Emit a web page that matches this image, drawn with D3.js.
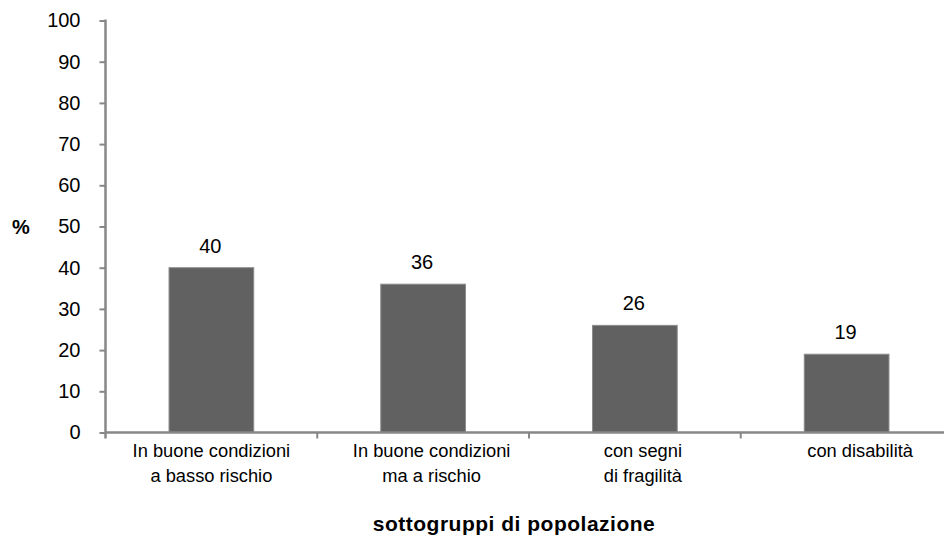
<!DOCTYPE html>
<html>
<head>
<meta charset="utf-8">
<script src="https://cdn.jsdelivr.net/npm/d3@7"></script>
<style>
  html, body { margin: 0; padding: 0; background: #fff; }
  svg { display: block; font-family: "Liberation Sans", Arial, Helvetica, sans-serif; }
</style>
</head>
<body>
<svg id="chart" width="944" height="536"></svg>
<script>
const categories = [
  "In buone condizioni a basso rischio",
  "In buone condizioni ma a rischio",
  "con segni di fragilità",
  "con disabilità"
];
const categoryLines = [
  ["In buone condizioni", "a basso rischio"],
  ["In buone condizioni", "ma a rischio"],
  ["con segni", "di fragilità"],
  ["con disabilità"]
];
const values = [40, 36, 26, 19];
const yTicks = [0, 10, 20, 30, 40, 50, 60, 70, 80, 90, 100];
const yLabel = "%";
const xTitle = "sottogruppi di popolazione";

const svg = d3.select("#chart");
const axisColor = "#878787";
const plotLeft = 105.5, plotTop = 20.5, plotBottom = 432.5, plotRightEnd = 952.5;
const labelShift = [0, 8.5, 8, 13.5];

const x = d3.scaleBand().domain(categories).range([plotLeft, plotRightEnd]).padding(0);
const y = d3.scaleLinear().domain([0, 100]).range([plotBottom, plotTop]);
const barW = x.bandwidth() * 0.4;

// bars
svg.append("g").selectAll("rect").data(values).join("rect")
  .attr("x", (d, i) => x(categories[i]) + (x.bandwidth() - barW) / 2)
  .attr("y", d => y(d))
  .attr("width", barW)
  .attr("height", d => y(0) - y(d))
  .attr("fill", "#616161")
  .attr("stroke", "#8c8c8c")
  .attr("stroke-width", 1);

// value labels
svg.append("g").selectAll("text").data(values).join("text")
  .attr("x", (d, i) => x(categories[i]) + x.bandwidth() / 2 - 1)
  .attr("y", d => y(d) - 15)
  .attr("text-anchor", "middle")
  .attr("font-size", 20)
  .attr("fill", "#000")
  .text(d => d);

// y axis
const yAxis = svg.append("g").attr("transform", `translate(${plotLeft},0)`)
  .call(d3.axisLeft(y).tickValues(yTicks).tickSize(6).tickSizeOuter(0).tickPadding(19));
yAxis.select(".domain").remove();
yAxis.selectAll(".tick line").attr("stroke", axisColor).attr("stroke-width", 2);
yAxis.selectAll(".tick text").attr("font-size", 20).attr("fill", "#000")
  .attr("font-family", "Liberation Sans, Arial, sans-serif");
yAxis.append("line").attr("x1", 0).attr("x2", 0).attr("y1", plotTop - 1).attr("y2", plotBottom + 6)
  .attr("stroke", axisColor).attr("stroke-width", 2.5);

// x axis line
svg.append("line").attr("x1", plotLeft).attr("x2", plotRightEnd).attr("y1", plotBottom).attr("y2", plotBottom)
  .attr("stroke", axisColor).attr("stroke-width", 2.5);
// boundary ticks
svg.append("g").selectAll("line").data(categories.slice(1)).join("line")
  .attr("x1", d => x(d)).attr("x2", d => x(d))
  .attr("y1", plotBottom).attr("y2", plotBottom + 6)
  .attr("stroke", axisColor).attr("stroke-width", 2);

// category labels
const catG = svg.append("g").selectAll("text").data(categoryLines).join("text")
  .attr("x", (d, i) => x(categories[i]) + x.bandwidth() / 2 + labelShift[i])
  .attr("y", 457)
  .attr("text-anchor", "middle")
  .attr("font-size", 18.3)
  .attr("fill", "#000");
catG.selectAll("tspan").data(d => d).join("tspan")
  .attr("x", function() { return d3.select(this.parentNode).attr("x"); })
  .attr("dy", (d, i) => i === 0 ? 0 : 25)
  .text(d => d);

// y label
svg.append("text").attr("x", 21).attr("y", y(50)).attr("dy", "0.35em")
  .attr("text-anchor", "middle").attr("font-weight", "bold").attr("font-size", 20)
  .attr("fill", "#000").text(yLabel);

// x title
svg.append("text").attr("x", 514).attr("y", 531)
  .attr("text-anchor", "middle").attr("font-weight", "bold").attr("font-size", 21)
  .attr("letter-spacing", 0.5)
  .attr("fill", "#000").text(xTitle);
</script>
</body>
</html>
